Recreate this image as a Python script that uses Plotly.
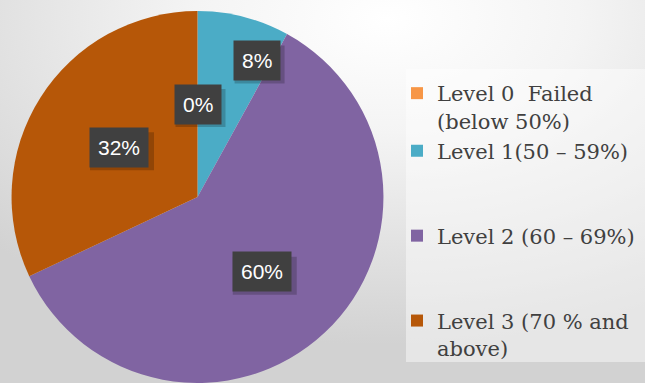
import math
import base64
import plotly.graph_objects as go

# ---- data ----
labels = ["Level 0  Failed<br>(below 50%)", "Level 1(50 – 59%)<br> <br> ", "Level 2 (60 – 69%)<br> <br> ", "Level 3 (70 % and<br>above)"]
values = [0, 8, 60, 32]
pct_text = ["0%", "8%", "60%", "32%"]
colors = ["#F79646", "#4BACC6", "#8064A2", "#B65708"]

# label placement style (fraction of radius, angle shift in degrees)
label_rfrac = [0.5, 0.80, 0.53, 0.5]
label_dang = [0, 9, 2.5, 0]

W, H = 645, 383
dom_x = [10 / W, 385 / W]
dom_y = [0.0, 0.971]

fig = go.Figure()

# background radial gradient
svg = f'''<svg xmlns="http://www.w3.org/2000/svg" width="{W}" height="{H}">
<defs><radialGradient id="g" cx="0.6" cy="0.05" r="0.85" gradientUnits="objectBoundingBox">
<stop offset="0" stop-color="#ffffff"/><stop offset="0.35" stop-color="#f4f4f4"/><stop offset="1" stop-color="#d2d2d2"/>
</radialGradient></defs><rect width="{W}" height="{H}" fill="url(#g)"/></svg>'''
src = "data:image/svg+xml;base64," + base64.b64encode(svg.encode()).decode()
fig.add_layout_image(dict(source=src, xref="paper", yref="paper", x=0, y=1, sizex=1, sizey=1,
                          xanchor="left", yanchor="top", sizing="stretch", layer="below"))

fig.add_trace(go.Pie(
    labels=labels, values=values, sort=False, direction="clockwise", rotation=0,
    marker=dict(colors=colors, line=dict(width=0)),
    textinfo="none", hoverinfo="label+percent",
    domain=dict(x=dom_x, y=dom_y),
))

# legend panel
fig.add_shape(type="rect", xref="paper", yref="paper", x0=406 / W, x1=1.0, y0=1 - 362 / H, y1=1 - 69 / H,
              fillcolor="rgba(255,255,255,0.45)", line=dict(width=0), layer="below")

# percentage label boxes, placed from the data
cx_px = (dom_x[0] + dom_x[1]) / 2 * W
cy_px = (dom_y[0] + dom_y[1]) / 2 * H
R = min((dom_x[1] - dom_x[0]) * W, (dom_y[1] - dom_y[0]) * H) / 2
total = sum(values)
cum = 0
for v, t, rf, da in zip(values, pct_text, label_rfrac, label_dang):
    mid = (cum + v / 2) / total * 360 + da
    cum += v
    ang = math.radians(mid)
    px = cx_px + rf * R * math.sin(ang)
    py = cy_px + rf * R * math.cos(ang)
    # soft drop shadow behind the box
    bw = 14 * len(t) + 22
    bh = 38
    sx, sy = px + 3, py - 4
    fig.add_shape(type="rect", xref="paper", yref="paper",
                  x0=(sx - bw / 2) / W, x1=(sx + bw / 2) / W,
                  y0=(sy - bh / 2) / H, y1=(sy + bh / 2) / H,
                  fillcolor="rgba(0,0,0,0.2)", line=dict(width=0), layer="above")
    fig.add_annotation(
        x=px / W, y=py / H, xref="paper", yref="paper", text=t, showarrow=False,
        xanchor="center", yanchor="middle",
        font=dict(family="Liberation Sans, Arial", size=21, color="white"),
        bgcolor="#404040", borderpad=8,
    )

fig.update_layout(
    width=W, height=H,
    margin=dict(l=0, r=0, t=0, b=0),
    paper_bgcolor="#e6e6e6",
    showlegend=True,
    legend=dict(x=397 / W, y=1 - 73 / H, xanchor="left", yanchor="top",
                bgcolor="rgba(0,0,0,0)", valign="top",
                font=dict(family="DejaVu Serif, serif", size=21, color="#404040"),
                tracegroupgap=0),
)

fig.write_html("out.html", config={"displayModeBar": False},
               post_script="document.body.style.margin='0px';document.body.style.overflow='hidden';")
